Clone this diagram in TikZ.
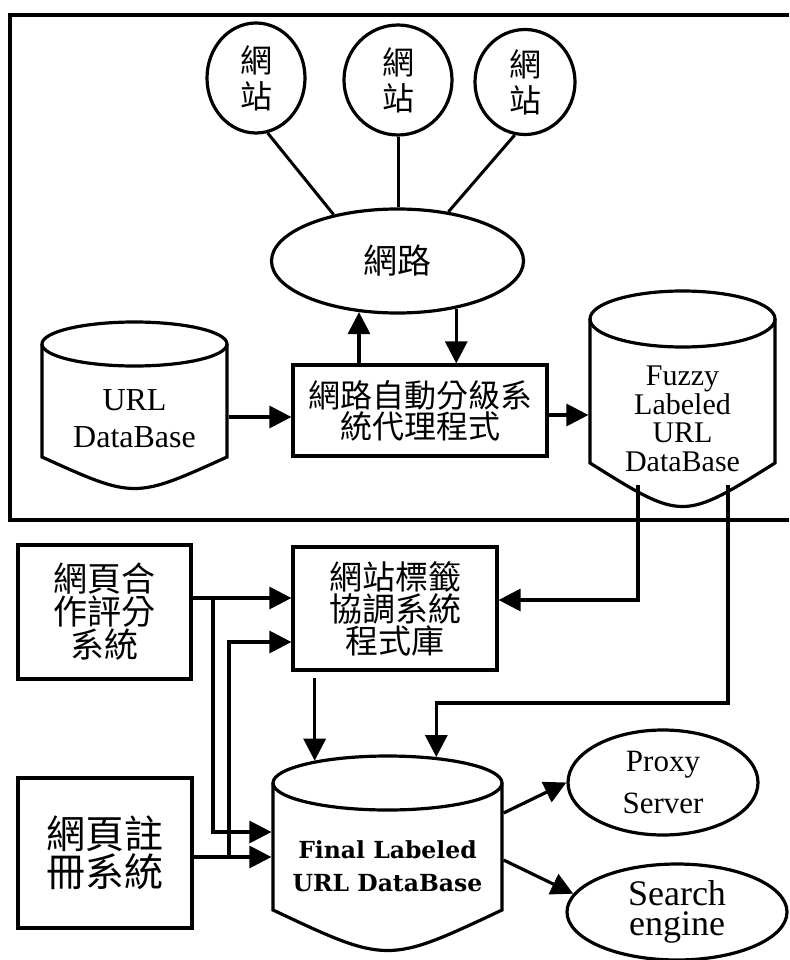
\documentclass[tikz,border=0pt]{standalone}
\usepackage{fontspec}
\setmainfont{Liberation Serif}
\newfontfamily\cjkfont{Noto Sans CJK TC}
\newfontfamily\slabfont{DejaVu Serif}
\usetikzlibrary{arrows.meta,shapes.geometric}
\begin{document}
\begin{tikzpicture}[x=1pt,y=-1pt,line width=3.2pt,
  conn/.style={line width=3pt},
  arr/.style={line width=3.2pt,-{Triangle[length=22pt,width=22pt]}},
  site/.style={draw,ellipse,inner sep=0pt,align=center,font=\cjkfont\fontsize{32}{36}\selectfont},
  cbox/.style={draw,rectangle,inner sep=0pt,align=center},
  ghost/.style={draw=none,rectangle,inner sep=0pt},
  topell/.style={draw,ellipse,inner sep=0pt},
  lbl/.style={align=center,inner sep=0pt}]
\useasboundingbox (0,0) rectangle (789,960);

% frame
\draw (789,15) -- (10,15) -- (10,520) -- (789,520);

% sites and network
\node[site,minimum width=98pt,minimum height=110pt] (c1) at (256,78) {網\\站};
\node[site,minimum width=108pt,minimum height=110pt] (c2) at (398,80) {網\\站};
\node[site,minimum width=100pt,minimum height=105pt] (c3) at (525,82) {網\\站};
\node[draw,ellipse,inner sep=0pt,minimum width=252pt,minimum height=104pt,
      font=\cjkfont\fontsize{34}{34}\selectfont] (net) at (397.5,261) {網路};
\draw[conn] (c1.282) -- (net.144.5);
\draw[conn] (c2.south) -- (c2.south |- net.north);
\draw[conn] (c3.259) -- (net.44);

% agent box
\node[cbox,minimum width=254pt,minimum height=91pt,
      font=\cjkfont\fontsize{32}{31}\selectfont] (agent) at (420,410.5) {網路自動分級系\\統代理程式};

% URL DataBase cylinder
\draw (42,344) -- (42,457) .. controls (134.5,499) .. (227,457) -- (227,344);
\node[topell,minimum width=185pt,minimum height=44pt] (urltop) at (134.5,344) {};
\node[ghost,minimum width=185pt,minimum height=113pt] (urldb) at (134.5,400.5) {};
\node[lbl,font=\fontsize{32}{37}\selectfont] (urltxt) at (134.5,419) {URL\\DataBase};

% Fuzzy Labeled URL DataBase cylinder
\draw (590,319) -- (590,463) .. controls (682.5,521) .. (775,463) -- (775,319);
\node[topell,minimum width=185pt,minimum height=56pt] (fztop) at (682.5,319) {};
\node[ghost,minimum width=185pt,minimum height=144pt] (fuzzy) at (682.5,391) {};
\node[lbl,font=\fontsize{30}{28.5}\selectfont] (fztxt) at (682.5,419) {Fuzzy\\Labeled\\URL\\DataBase};
\coordinate (fz1) at (638,485);
\coordinate (fz2) at (728,485);

\draw[arr] (urldb.east |- 0,417) -- (agent.west |- 0,417);
\draw[arr] (agent.east |- 0,415) -- (fuzzy.west |- 0,415);
\draw[arr] (net.233 |- agent.north) -- (net.233);
\draw[arr] (net.321) -- (net.321 |- agent.north);

% lower boxes
\node[cbox,minimum width=173pt,minimum height=134pt,
      font=\cjkfont\fontsize{34}{33}\selectfont] (coop) at (104.5,612) {網頁合\\作評分\\系統};
\node[cbox,minimum width=204pt,minimum height=123pt,
      font=\cjkfont\fontsize{33}{32}\selectfont] (tagbox) at (395,608.5) {網站標籤\\協調系統\\程式庫};
\node[cbox,minimum width=174pt,minimum height=150pt,
      font=\cjkfont\fontsize{39}{38}\selectfont] (reg) at (105,853) {網頁註\\冊系統};

% Final Labeled URL DataBase cylinder
\draw (273,783) -- (273,910) .. controls (387.5,964) .. (502,910) -- (502,783);
\node[topell,minimum width=229pt,minimum height=54pt] (fintop) at (387.5,783) {};
\node[ghost,minimum width=229pt,minimum height=127pt] (fin) at (387.5,846.5) {};
\node[lbl,font=\slabfont\bfseries\fontsize{23.5}{33}\selectfont] (fintxt) at (387.5,866) {Final Labeled\\URL DataBase};

% outputs
\node[draw,ellipse,inner sep=0pt,minimum width=190pt,minimum height=105pt,align=center,
      font=\fontsize{31}{42}\selectfont] (proxy) at (663,782.5) {Proxy\\Server};
\node[draw,ellipse,inner sep=0pt,minimum width=220pt,minimum height=96pt,align=center,
      font=\fontsize{36}{30}\selectfont] (search) at (677,912) {Search\\engine};

% connectors lower part
\coordinate (j1) at (213,598);
\coordinate (j2) at (229,857);
\draw[arr] (coop.east |- 0,598) -- (tagbox.west |- 0,598);
\draw[arr] (j1) |- (fin.west |- 0,832);
\draw[arr] (reg.east |- 0,857) -- (fin.west |- 0,857);
\draw[arr] (j2) |- (tagbox.west |- 0,642);
\draw[arr] (fz1) |- (tagbox.east |- 0,600);
\draw[arr] (fz2) |- (fintop.28 |- 0,703) -- (fintop.28);
\draw[arr] (fintop.163 |- 0,678) -- (fintop.163);
\draw[arr] (fin.east |- 0,813) -- (proxy.west);
\draw[arr] (fin.east |- 0,860) -- (search.170);
\end{tikzpicture}
\end{document}
